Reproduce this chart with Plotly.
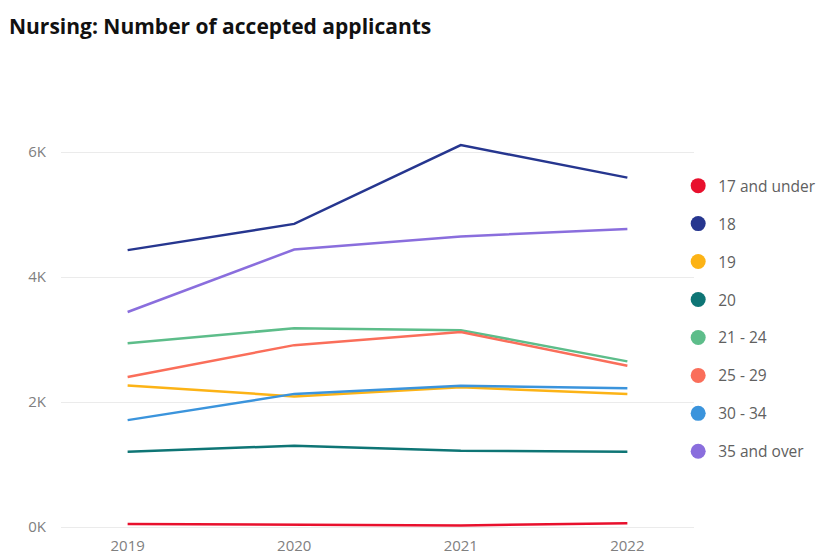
import plotly.graph_objects as go

years = ["2019", "2020", "2021", "2022"]
groups = ["17 and under", "18", "19", "20", "21 - 24", "25 - 29", "30 - 34", "35 and over"]
v_17_under = [50, 35, 25, 60]
v_18 = [4430, 4850, 6110, 5590]
v_19 = [2265, 2090, 2235, 2130]
v_20 = [1205, 1300, 1220, 1205]
v_21_24 = [2940, 3180, 3150, 2650]
v_25_29 = [2400, 2910, 3120, 2580]
v_30_34 = [1710, 2130, 2260, 2220]
v_35_over = [3440, 4440, 4650, 4770]
series = [v_17_under, v_18, v_19, v_20, v_21_24, v_25_29, v_30_34, v_35_over]
colors = ["#E8102D", "#26368F", "#FCB316", "#0E7575", "#5DBD8A", "#FA6E5A", "#3B94DC", "#8A6EDD"]
y_ticks = [0, 2000, 4000, 6000]
y_labels = ["0K", "2K", "4K", "6K"]

fig = go.Figure()
for name, vals, col in zip(groups, series, colors):
    fig.add_trace(go.Scatter(x=years, y=vals, mode="lines", name=name,
                             line=dict(color=col, width=2.5), showlegend=False,
                             hovertemplate="%{x}: %{y}<extra>" + name + "</extra>"))
for i, (name, col) in enumerate(zip(groups, colors)):
    fig.add_trace(go.Scatter(x=[None], y=[None], mode="markers", name=name,
                             marker=dict(color=col, size=15), legendgroup=f"g{i}",
                             showlegend=True))

fig.update_layout(
    width=817, height=553,
    paper_bgcolor="white", plot_bgcolor="white",
    margin=dict(l=61, r=123, t=110, b=18, autoexpand=False),
    title=dict(text="<b>Nursing: Number of accepted applicants</b>", x=0.011, xanchor="left",
               y=0.951, yanchor="middle",
               font=dict(family="Open Sans", size=21, color="#111111")),
    font=dict(family="Open Sans", color="#808080", size=15),
    xaxis=dict(type="category", range=[-0.4, 3.4], showgrid=False, showline=False,
               ticks="", tickfont=dict(size=15, color="#808080"), automargin=False,
               ticklabelstandoff=0),
    yaxis=dict(range=[-128, 6672], tickvals=y_ticks, ticktext=y_labels, showgrid=True,
               gridcolor="#EBEBEB", gridwidth=1, zeroline=False, showline=False,
               ticks="", ticklabelstandoff=14, automargin=False,
               tickfont=dict(size=15, color="#808080")),
    legend=dict(x=0.975, y=0.861, xanchor="left", yanchor="top",
                font=dict(family="Open Sans", size=15.5, color="#606060"),
                traceorder="grouped", tracegroupgap=14.8, itemwidth=30,
                bgcolor="rgba(0,0,0,0)"),
    showlegend=True,
)

fig.write_html("out.html", config={"displayModeBar": False},
               post_script="document.body.style.margin='0';")
